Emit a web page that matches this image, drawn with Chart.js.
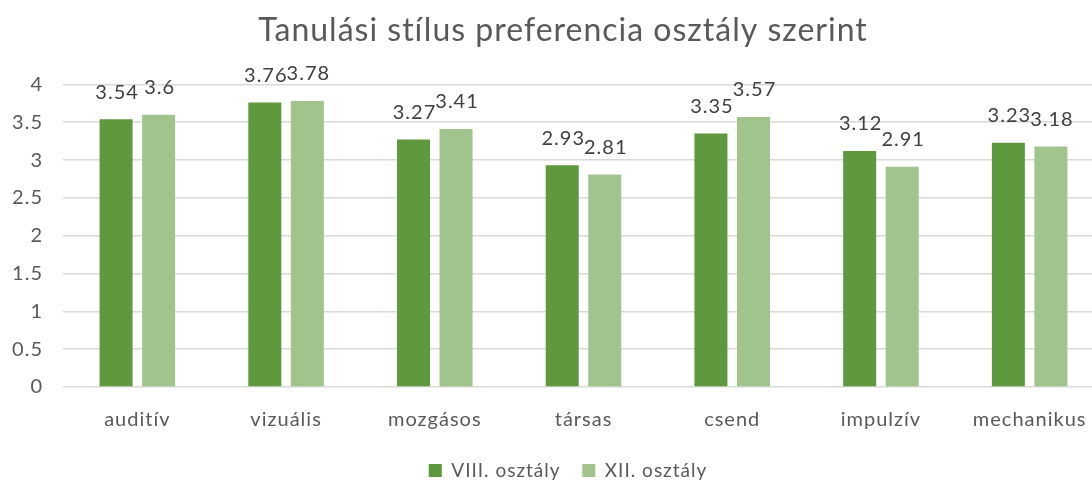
<!DOCTYPE html>
<html>
<head>
<meta charset="utf-8">
<script src="https://cdn.jsdelivr.net/npm/chart.js@4/dist/chart.umd.min.js"></script>
<style>
html,body{margin:0;padding:0;background:#fff;overflow:hidden;width:1092px;height:482px;}
#wrap{position:absolute;left:0;top:0;width:1126px;height:482px;}
</style>
</head>
<body>
<div id="wrap"><canvas id="c" width="1126" height="482"></canvas></div>
<script>
const categories = ['auditív','vizuális','mozgásos','társas','csend','impulzív','mechanikus'];
const seriesNames = ['VIII. osztály','XII. osztály'];
const viii = [3.54, 3.76, 3.27, 2.93, 3.35, 3.12, 3.23];
const xii = [3.6, 3.78, 3.41, 2.81, 3.57, 2.91, 3.18];
const yTicks = [0, 0.5, 1, 1.5, 2, 2.5, 3, 3.5, 4];

const FONT = 'Lato, "Open Sans", sans-serif';
const TXT = '#595959';
const SPACING = '1px';

const spacingPlugin = {
  id: 'spacing',
  beforeUpdate(chart) { chart.ctx.letterSpacing = SPACING; },
  beforeLayout(chart) { chart.ctx.letterSpacing = SPACING; },
  afterLayout(chart) {
    const t = chart.titleBlock;
    if (t) { t.left += 11; t.right += 11; }
    const l = chart.legend;
    if (l) { l.left += 16; l.right += 16; l.top += 2; l.bottom += 2; }
  },
  beforeDraw(chart) { chart.ctx.letterSpacing = SPACING; }
};

const valueLabels = {
  id: 'valueLabels',
  afterDatasetsDraw(chart) {
    const ctx = chart.ctx;
    ctx.save();
    ctx.letterSpacing = SPACING;
    ctx.font = '20px ' + FONT;
    ctx.fillStyle = '#404040';
    ctx.textAlign = 'center';
    ctx.textBaseline = 'middle';
    chart.data.datasets.forEach((ds, i) => {
      const meta = chart.getDatasetMeta(i);
      meta.data.forEach((bar, j) => {
        ctx.fillText(String(ds.data[j]), bar.x + 1, bar.y - 27);
      });
    });
    ctx.restore();
  }
};

new Chart(document.getElementById('c'), {
  type: 'bar',
  data: {
    labels: categories,
    datasets: [
      { label: seriesNames[0], data: viii, backgroundColor: '#5f993e', categoryPercentage: 0.572, barPercentage: 0.776 },
      { label: seriesNames[1], data: xii, backgroundColor: '#a0c48b', categoryPercentage: 0.572, barPercentage: 0.776 }
    ]
  },
  options: {
    responsive: false,
    animation: false,
    devicePixelRatio: 1,
    layout: { padding: { left: 0, right: 22, top: 0, bottom: -6 } },
    plugins: {
      title: {
        display: true,
        text: 'Tanulási stílus preferencia osztály szerint',
        color: TXT,
        font: { family: FONT, size: 32, weight: 'normal' },
        padding: { top: 11, bottom: 35 }
      },
      legend: {
        position: 'bottom',
        labels: {
          color: TXT,
          font: { family: FONT, size: 19 },
          boxWidth: 13,
          boxHeight: 13,
          padding: 10,
          generateLabels(chart) {
            const items = Chart.defaults.plugins.legend.labels.generateLabels(chart);
            if (items.length) items[0].text = items[0].text + '  ';
            return items;
          }
        }
      },
      tooltip: { enabled: false }
    },
    scales: {
      x: {
        grid: { display: false, drawTicks: false },
        border: { display: false },
        ticks: { color: TXT, font: { family: FONT, size: 20 }, padding: 21 },
        afterFit(s) { s.height = 62; }
      },
      y: {
        min: 0, max: 4,
        afterBuildTicks(s) { s.ticks = yTicks.map(v => ({ value: v })); },
        grid: { color: '#d9d9d9', lineWidth: 1.5, drawTicks: false },
        border: { display: false },
        ticks: { color: TXT, font: { family: FONT, size: 20 }, padding: 20, callback: v => String(v) },
        afterFit(s) { s.width = 63; }
      }
    }
  },
  plugins: [spacingPlugin, valueLabels]
});
</script>
</body>
</html>
